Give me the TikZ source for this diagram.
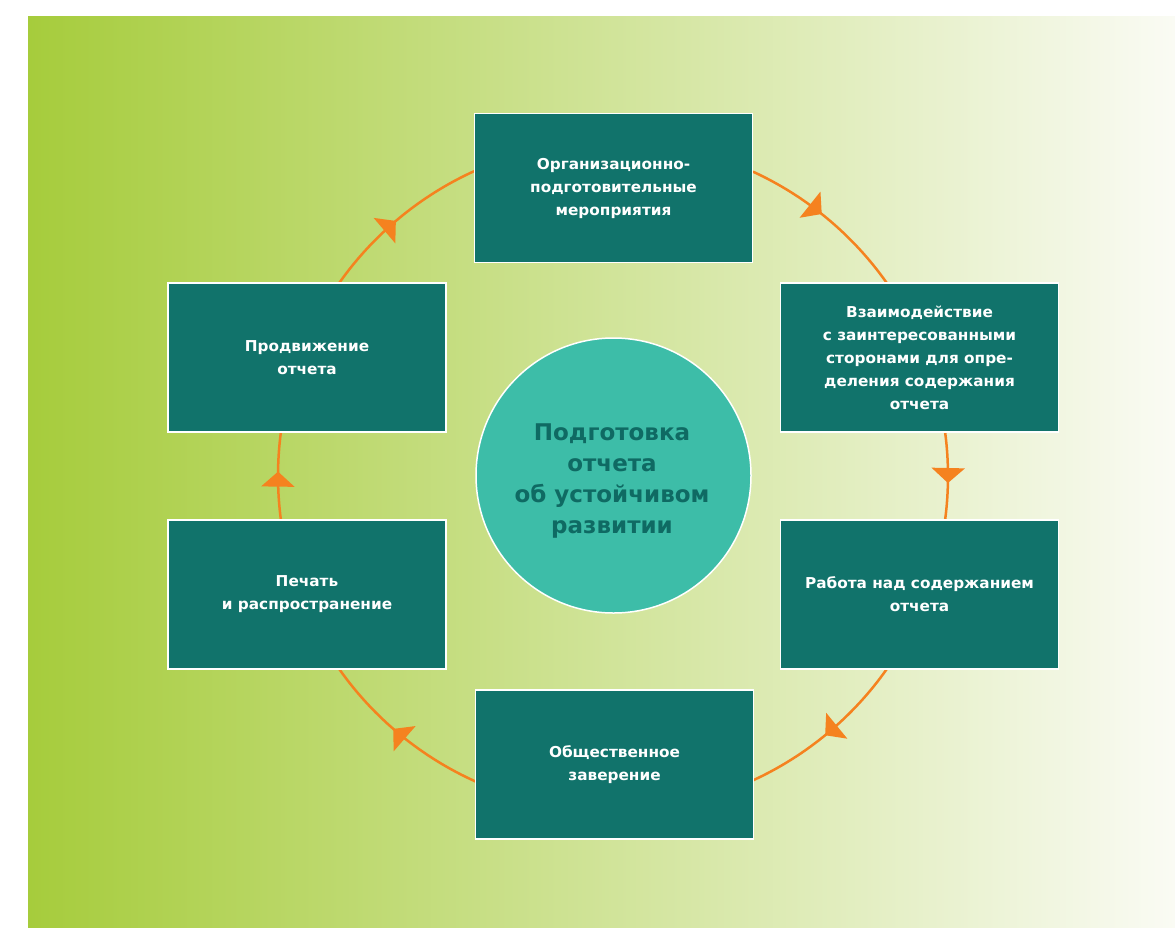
\documentclass[tikz,border=0pt]{standalone}
\usepackage{fontspec}
\newfontfamily\boxfont{DejaVu Sans}[FakeStretch=1.02]
\newfontfamily\corefont{DejaVu Sans}
\usetikzlibrary{decorations.markings,arrows.meta}
\definecolor{bgleft}{HTML}{A6CC3C}
\definecolor{bgright}{HTML}{FAFBF4}
\definecolor{boxteal}{HTML}{11736B}
\definecolor{coreteal}{HTML}{3DBDA8}
\definecolor{coretext}{HTML}{0F6A63}
\definecolor{ringorange}{HTML}{F5821F}
\tikzset{
  stagebox/.style={rectangle, draw=white, line width=1.2pt, fill=boxteal,
    minimum width=278pt, minimum height=149pt, inner sep=0pt, text=white,
    align=center, font=\boxfont\bfseries\fontsize{15}{23}\selectfont},
  corenode/.style={circle, draw=white, line width=1.5pt, fill=coreteal,
    minimum size=275pt, inner sep=0pt},
  coretitle/.style={text=coretext, align=center, inner sep=0pt,
    font=\corefont\bfseries\fontsize{23}{31}\selectfont},
  ring/.style={draw=ringorange, line width=2.5pt, postaction={decorate},
    decoration={markings, mark=at position #1 with {\arrow{Triangle[width=33pt,length=15pt]}}}}
}
\begin{document}
\begin{tikzpicture}[x=1pt,y=-1pt]
\useasboundingbox (0,0) rectangle (1175,927);
\shade[left color=bgleft, right color=bgright] (28,16) rectangle (1175,927);
\coordinate (c) at (613,476);
% ring segments (clockwise)
\draw[ring=0.46] (c) ++(-65.3:335) arc[start angle=-65.3, end angle=-35.2, radius=335];
\draw[ring=0.58] (c) ++(-7.5:335) arc[start angle=-7.5, end angle=7.5, radius=335];
\draw[ring=0.515] (c) ++(35.2:335) arc[start angle=35.2, end angle=65.3, radius=335];
\draw[ring=0.55] (c) ++(114.1:335) arc[start angle=114.1, end angle=144.8, radius=335];
\draw[ring=0.55] (c) ++(172.5:335) arc[start angle=172.5, end angle=187.5, radius=335];
\draw[ring=0.475] (c) ++(215.2:335) arc[start angle=215.2, end angle=245.5, radius=335];
% nodes
\node[corenode] (core) at (613.5,475.5) {};
\node[coretitle] (coretxt) at (612,481) {Подготовка\\отчета\\об устойчивом\\развитии};
\node[stagebox] (top) at (613.5,188) {Организационно-\\подготовительные\\мероприятия};
\node[stagebox] (ru) at (919.5,357.5) {Взаимодействие\\с заинтересованными\\сторонами для опре-\\деления содержания\\отчета};
\node[stagebox] (rl) at (919.5,594.5) {Работа над содержанием\\отчета};
\node[stagebox] (bot) at (614.5,764.5) {Общественное\\заверение};
\node[stagebox] (ll) at (307,594.5) {Печать\\и распространение};
\node[stagebox] (lu) at (307,357.5) {Продвижение\\отчета};
\end{tikzpicture}
\end{document}
